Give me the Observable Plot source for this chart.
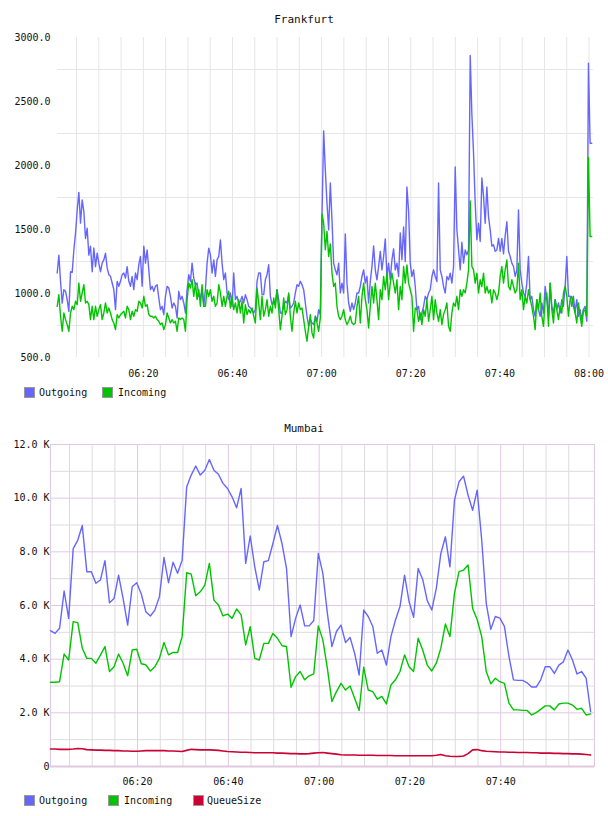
<!DOCTYPE html>
<html><head><meta charset="utf-8">
<script src="https://cdn.jsdelivr.net/npm/d3@7"></script>
<script src="https://cdn.jsdelivr.net/npm/@observablehq/plot@0.6"></script>
<style>
body{margin:0;background:#fff;font-family:"DejaVu Sans Mono",monospace;color:#111}
#wrap{position:relative;width:608px;height:816px;overflow:hidden}
.title{position:absolute;left:0;width:608px;text-align:center;font-size:11px;line-height:14px}
.chart{position:absolute;left:0}
.sw{position:absolute;width:9px;height:9px;border:1px solid #999}
.lt{position:absolute;font-size:10px;line-height:12px;white-space:pre}
</style></head><body><div id="wrap"></div>
<script>
// ---------- Frankfurt (samples every ~22.4 s from 06:00:40) ----------
const fOutgoing = [
1160,1300,1095,925,1030,1017,950,860,1170,1165,
1340,1470,1650,1790,1550,1730,1640,1430,1510,1300,
1370,1170,1355,1210,1315,1237,1170,1237,1263,1315,
1200,1147,1134,1082,1030,874,1095,1056,1095,1147,
1160,1120,1210,1095,1056,1134,1030,1160,1108,1225,
1290,1056,1370,1237,1340,1186,1030,1056,1017,1056,
1069,965,874,900,835,978,1056,1043,978,887,
926,900,809,1017,952,978,926,848,1030,1147,
1095,1237,1120,1069,1082,978,965,1030,900,1030,
1237,1354,1302,1160,1263,1134,1263,1290,1419,1237,
1108,1160,1004,952,1004,900,1160,952,978,926,
939,978,926,991,952,900,887,874,848,874,
1095,1160,1160,991,991,1108,1147,1225,978,913,
939,926,1030,952,848,848,900,939,926,991,
887,900,926,1004,1069,1056,1095,1069,1030,926,
822,744,796,770,757,822,783,874,835,
1600,2270,1964,1707,1497,1863,1575,1237,1185,1146,
1237,1004,1081,1004,1466,1081,926,861,926,874,
926,1004,1004,1055,1133,1185,1081,1133,926,1094,
1211,1372,1185,1107,1211,1329,1185,1289,1427,1133,
1237,1107,1263,1349,1185,1237,1133,1474,1263,1520,
1250,1832,1645,1237,1133,1185,1055,874,900,796,
848,900,978,952,1004,1029,1133,1185,1133,1094,
1863,1185,1133,1055,1004,1133,1107,1159,1081,1211,
1988,1500,1341,1185,1400,1237,1341,1302,1341,2860,
2400,2097,1707,1420,1549,1406,1902,1759,1549,1832,
1600,1497,1370,1380,1330,1340,1430,1330,1430,1310,
1450,1560,1330,1289,1237,1211,1133,1185,1653,1185,
1081,1004,978,1081,1290,952,978,874,822,952,
874,822,926,848,1055,952,822,1081,900,848,
952,874,926,848,952,900,1055,1289,978,978,
900,978,848,952,822,874,796,874,900,783,
2800,2174,2174
];
const fIncoming = [
900,991,822,705,848,796,757,705,848,900,
874,939,913,1082,939,1004,1069,926,939,913,
796,900,796,900,822,874,913,796,848,926,
848,887,848,796,770,718,835,809,835,848,
861,809,900,874,796,861,822,874,861,939,
926,887,978,900,913,835,822,822,809,822,
796,783,757,770,718,757,848,809,770,796,
770,783,705,809,796,809,796,705,952,1082,
1043,1108,978,1082,952,1030,900,1069,900,900,
1030,978,1030,939,978,900,926,1069,1004,900,
978,900,978,1017,887,978,874,926,848,952,
848,939,770,913,835,874,848,887,822,770,
1043,926,796,978,822,874,952,822,900,848,
965,887,1030,874,718,822,965,835,874,1004,
822,705,848,939,848,926,874,887,796,705,
627,744,835,692,653,822,770,705,809,
1622,1549,1342,1485,1289,1388,1159,1055,1081,900,
822,796,822,874,796,757,783,822,770,757,
770,900,978,770,978,1081,952,874,731,900,
1055,926,1081,952,796,1029,952,1133,1029,1159,
952,1081,1159,1081,1004,1107,874,1055,952,1211,
1081,1224,1081,1029,978,705,887,874,783,848,
757,874,822,952,783,874,978,796,952,848,
783,874,757,835,874,926,744,705,848,926,
900,978,874,1029,978,1029,1004,1081,1185,1723,
1211,1185,1081,1159,1004,1107,1055,1159,1004,1055,
1004,1029,926,1029,1004,952,1004,1133,1211,1081,
1185,1263,1055,1029,1107,1055,1004,1029,1237,952,
1029,874,978,926,1029,952,900,822,718,952,
874,1004,822,744,952,1004,744,1081,874,770,
952,874,796,900,848,1004,1055,978,822,952,
978,900,848,770,926,822,744,874,861,822,
2063,1445,1445
];
const fYTicks = [500,1000,1500,2000,2500,3000];
const fYGrid = [750,1250,1750,2250,2750];
const fXTickLabels = ["06:20","06:40","07:00","07:20","07:40","08:00"];
const fXGridLabels = ["06:05","06:10","06:15","06:20","06:25","06:30","06:35","06:40","06:45","06:50","06:55","07:00","07:05","07:10","07:15","07:20","07:25","07:30","07:35","07:40","07:45","07:50","07:55","08:00"];

// ---------- Mumbai (one sample per minute from 06:00:49), values in K ----------
const mOutgoing = [
5.06,4.96,5.15,6.54,5.52,8.12,8.43,8.98,7.26,7.26,
6.83,6.95,7.67,6.10,6.26,7.13,6.26,5.27,6.70,6.85,
6.43,5.77,5.61,5.83,6.33,7.79,6.85,7.61,7.20,7.69,
10.42,10.86,11.20,10.86,11.04,11.44,11.04,10.89,10.55,10.36,
10.05,9.64,10.36,7.57,8.59,7.44,6.58,7.63,7.67,8.31,
8.98,8.31,7.38,4.84,5.52,6.02,5.24,5.24,5.44,7.94,
7.20,5.71,4.47,5.03,5.27,4.62,4.81,4.22,3.41,5.83,
5.59,5.22,4.22,4.34,3.78,4.84,5.46,5.96,7.13,6.14,
5.56,7.38,6.97,6.18,5.83,6.64,7.94,8.56,7.44,9.93,
10.61,10.82,10.11,9.55,10.30,8.44,6.08,5.11,5.59,5.53,
5.22,4.10,3.23,3.21,3.21,3.12,2.96,2.96,3.23,3.72,
3.72,3.47,3.78,3.90,4.34,3.97,3.45,3.54,3.29,2.05
];
const mIncoming = [
3.14,3.14,3.16,4.19,3.97,5.40,5.36,4.41,4.03,4.03,
3.85,4.15,4.47,3.54,3.72,4.19,3.85,3.38,4.34,4.37,
3.83,3.79,3.56,3.72,4.03,4.62,4.16,4.25,4.25,4.84,
7.22,7.17,6.36,6.51,6.76,7.57,6.20,6.02,5.61,5.68,
5.52,5.87,5.65,4.53,5.21,4.03,3.97,4.59,4.59,4.96,
4.78,4.50,4.47,2.95,3.35,3.54,3.23,3.38,3.45,5.24,
4.72,3.66,2.42,2.79,3.10,2.85,3.00,2.54,2.09,3.70,
2.85,2.79,2.51,2.61,2.33,3.04,3.23,3.54,4.16,3.72,
3.54,4.78,4.34,3.78,3.56,3.85,4.41,5.31,4.84,6.45,
7.26,7.32,7.51,5.89,5.48,4.84,3.54,3.08,3.29,3.16,
3.10,2.36,2.11,2.11,2.09,2.09,1.92,2.01,2.13,2.26,
2.26,2.11,2.33,2.36,2.36,2.29,2.13,2.17,1.92,1.96
];
const mQueueSize = [
0.65,0.65,0.64,0.64,0.64,0.65,0.67,0.66,0.63,0.62,
0.61,0.61,0.60,0.60,0.59,0.59,0.58,0.58,0.57,0.57,
0.58,0.59,0.59,0.59,0.59,0.59,0.58,0.58,0.57,0.56,
0.60,0.64,0.63,0.62,0.62,0.62,0.61,0.60,0.58,0.56,
0.55,0.54,0.53,0.53,0.52,0.51,0.51,0.51,0.51,0.51,
0.50,0.50,0.49,0.48,0.48,0.47,0.47,0.48,0.50,0.51,
0.52,0.50,0.48,0.46,0.44,0.43,0.43,0.43,0.42,0.42,
0.42,0.42,0.41,0.41,0.41,0.41,0.40,0.40,0.40,0.40,
0.40,0.40,0.40,0.40,0.40,0.42,0.45,0.40,0.38,0.37,
0.37,0.39,0.48,0.62,0.63,0.59,0.57,0.56,0.55,0.54,
0.54,0.53,0.53,0.52,0.52,0.52,0.51,0.51,0.50,0.50,
0.50,0.49,0.49,0.48,0.48,0.47,0.47,0.46,0.45,0.43
];
const mYTicks = [0,2,4,6,8,10,12];
const mYMinor = [1,3,5,7,9,11];
const mXTickLabels = ["06:20","06:40","07:00","07:20","07:40"];
const mXMajorLabels = ["06:20","06:40","07:00","07:20","07:40"];
const mXMinorLabels = ["06:05","06:10","06:15","06:25","06:30","06:35","06:45","06:50","06:55","07:05","07:10","07:15","07:25","07:30","07:35","07:45","07:50","07:55"];

const seriesColors = {Outgoing:"#6666ff", Incoming:"#00c400", QueueSize:"#cc0033"};

// ---------- helpers ----------
const day = Date.UTC(2000,0,1);
const hm = s => { const [h,m] = s.split(":").map(Number); return new Date(day + (h*60+m)*60000); };
const hms = (h,m,s) => new Date(day + ((h*60+m)*60+s)*1000);
const fmt = d3.utcFormat("%H:%M");
const font = {fontFamily:'"DejaVu Sans Mono", monospace', fontSize:"10px", color:"#111", background:"#fff", overflow:"visible"};

const fStart = hms(6,0,40).getTime(), fStep = 22420;
const fRows = fOutgoing.map((v,i)=>({t:new Date(fStart+i*fStep), out:v, inc:fIncoming[i]}));
const mStart = hms(6,0,49).getTime(), mStep = 60000;
const mRows = mOutgoing.map((v,i)=>({t:new Date(mStart+i*mStep), out:v, inc:mIncoming[i], q:mQueueSize[i]}));

const wrap = document.getElementById("wrap");
function addTitle(text, top){ const d=document.createElement("div"); d.className="title"; d.style.top=top+"px"; d.textContent=text; wrap.appendChild(d); }
function addLegend(items, top){
  for(const [name, swLeft, txtLeft] of items){
    const s=document.createElement("div"); s.className="sw"; s.style.left=swLeft+"px"; s.style.top=top+"px"; s.style.background=seriesColors[name]; wrap.appendChild(s);
    const t=document.createElement("div"); t.className="lt"; t.style.left=txtLeft+"px"; t.style.top=(top)+"px"; t.textContent=name; wrap.appendChild(t);
  }
}
function addChart(svg, top){ const d=document.createElement("div"); d.className="chart"; d.style.top=top+"px"; d.appendChild(svg); wrap.appendChild(d); }

// ---------- Frankfurt chart ----------
addTitle("Frankfurt", 13);
const fChart = Plot.plot({
  width:608, height:355, marginTop:10, marginBottom:25, marginLeft:57, marginRight:15,
  style:font,
  x:{type:"utc", domain:[hms(6,0,44), hms(8,1,0)], axis:null},
  y:{domain:[500,3000], axis:null},
  marks:[
    Plot.ruleX(fXGridLabels.map(hm), {stroke:"#e6e6e6"}),
    Plot.ruleY(fYGrid, {stroke:"#e6e6e6"}),
    Plot.axisX(fXTickLabels.map(hm), {tickSize:0, tickPadding:12, tickFormat:fmt, label:null}),
    Plot.axisY(fYTicks, {tickSize:0, tickPadding:7, tickFormat:d=>d.toFixed(1), label:null}),
    Plot.line(fRows, {x:"t", y:"out", stroke:seriesColors.Outgoing, strokeWidth:1.4}),
    Plot.line(fRows, {x:"t", y:"inc", stroke:seriesColors.Incoming, strokeWidth:1.4})
  ]
});
addChart(fChart, 27);
addLegend([["Outgoing",24,39],["Incoming",102,118]], 387);

// ---------- Mumbai chart ----------
addTitle("Mumbai", 422);
const pink = "#e2c8e2";
const mChart = Plot.plot({
  width:608, height:355, marginTop:8, marginBottom:25, marginLeft:50, marginRight:14,
  style:font,
  x:{type:"utc", domain:[hms(6,0,49), hms(8,0,40)], axis:null},
  y:{domain:[0,12], axis:null},
  marks:[
    Plot.ruleX(mXMinorLabels.map(hm), {stroke:"#dcdcdc"}),
    Plot.ruleY(mYMinor, {stroke:"#dcdcdc"}),
    Plot.ruleX(mXMajorLabels.map(hm), {stroke:pink}),
    Plot.ruleY(mYTicks, {stroke:pink}),
    Plot.ruleY([0], {stroke:pink, strokeWidth:2}),
    Plot.frame({stroke:pink}),
    Plot.axisX(mXTickLabels.map(hm), {tickSize:0, tickPadding:11, tickFormat:fmt, label:null}),
    Plot.axisY(mYTicks, {tickSize:0, tickPadding:1, tickFormat:d=>d===0?"0":d.toFixed(1)+" K", label:null}),
    Plot.line(mRows, {x:"t", y:"out", stroke:seriesColors.Outgoing, strokeWidth:1.4}),
    Plot.line(mRows, {x:"t", y:"inc", stroke:seriesColors.Incoming, strokeWidth:1.4}),
    Plot.line(mRows, {x:"t", y:"q", stroke:seriesColors.QueueSize, strokeWidth:1.6})
  ]
});
addChart(mChart, 436);
addLegend([["Outgoing",24,39],["Incoming",108,124],["QueueSize",193,207]], 795);
</script></body></html>
